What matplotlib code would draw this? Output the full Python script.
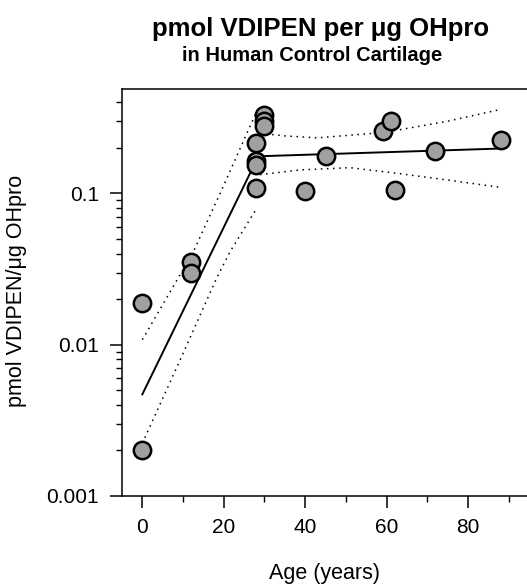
import matplotlib
matplotlib.use('Agg')
import matplotlib.pyplot as plt
import numpy as np

plt.rcParams['font.family'] = ['Liberation Sans', 'DejaVu Sans']

# ================= DATA =================
ages = [0, 0, 12, 12, 28, 28, 28, 28, 30, 30, 30, 40, 45, 59, 61, 62, 72, 88]
vals = [0.019, 0.002, 0.035, 0.030, 0.215, 0.165, 0.153, 0.108,
        0.33, 0.30, 0.28, 0.104, 0.178, 0.257, 0.303, 0.106, 0.192, 0.226]

# piecewise regression line
fit_age = [0, 28.5, 88]
fit_val = [0.0047, 0.176, 0.198]

# 95% bands, first segment
upper1_age = [0, 12.5, 19.1, 28]
upper1_val = [0.0108, 0.041, 0.100, 0.344]
lower1_age = [0, 10, 18.2, 21.5, 28]
lower1_val = [0.00223, 0.00875, 0.0274, 0.041, 0.079]

# 95% bands, second segment
upper2_age = [28.9, 35, 43, 57, 63, 75, 87.6]
upper2_val = [0.250, 0.240, 0.233, 0.250, 0.263, 0.30, 0.357]
lower2_age = [28.9, 38.7, 51, 63.3, 75.6, 87.6]
lower2_val = [0.133, 0.143, 0.148, 0.135, 0.122, 0.110]

xticks = [0, 20, 40, 60, 80]
yticks = [0.001, 0.01, 0.1]
ytick_labels = ['0.001', '0.01', '0.1']

# ================= PLOT =================
fig = plt.figure(figsize=(5.27, 5.84), dpi=100)
ax = fig.add_axes([0.2315, 0.1507, 0.7685, 0.6969])

dot = dict(color='black', linestyle=(0, (1, 3)), linewidth=1.1)
ax.plot(upper1_age, upper1_val, **dot)
ax.plot(lower1_age, lower1_val, **dot)
ax.plot(upper2_age, upper2_val, **dot)
ax.plot(lower2_age, lower2_val, **dot)
ax.plot(fit_age, fit_val, color='black', linewidth=1.4)

ax.plot(ages, vals, 'o', markersize=12.5, markerfacecolor='#a0a0a0',
        markeredgecolor='black', markeredgewidth=1.8, zorder=5)

# ================= AXIS =================
ax.set_yscale('log')
ax.set_ylim(0.001, 0.49)
ax.set_xlim(-5, 94.5)

ax.set_xticks(xticks)
ax.set_xticks([10, 30, 50, 70, 90], minor=True)
ax.set_yticks(yticks)
ax.set_yticklabels(ytick_labels)

ax.spines['right'].set_visible(False)
for s in ['left', 'bottom', 'top']:
    ax.spines[s].set_linewidth(1.1)

ax.tick_params(axis='both', which='major', direction='out', length=8.5,
               width=1.1, labelsize=15)
ax.tick_params(axis='both', which='minor', direction='out', length=4.5,
               width=1.0)
ax.tick_params(axis='y', which='major', pad=8)
ax.tick_params(axis='x', which='major', pad=7)

ax.set_xlabel('Age (years)', fontsize=15.5)
ax.xaxis.set_label_coords(0.501, -0.165)
ax.set_ylabel('pmol VDIPEN/\u03bcg OHpro', fontsize=15.5)
ax.yaxis.set_label_coords(-0.235, 0.505)

# ================= TITLES =================
fig.text(0.608, 0.9505, 'pmol VDIPEN per \u03bcg OHpro', fontsize=18.5,
         fontweight='bold', ha='center', va='center')
fig.text(0.593, 0.9045, 'in Human Control Cartilage', fontsize=14.5,
         fontweight='bold', ha='center', va='center')

fig.savefig('out.png', dpi=100)
